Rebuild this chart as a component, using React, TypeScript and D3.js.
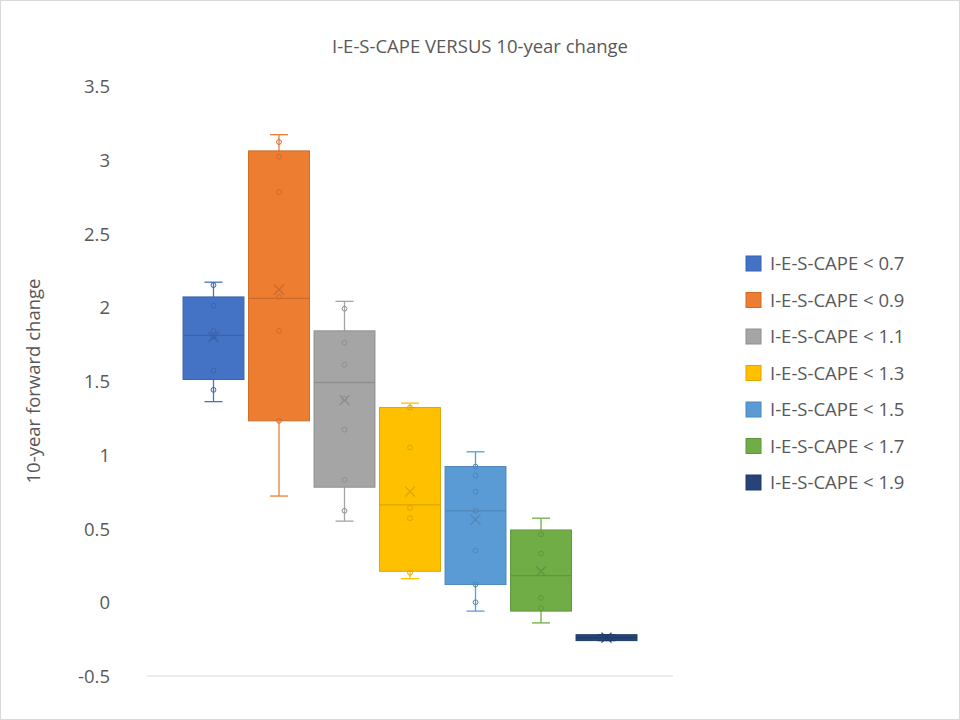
import React from 'react';
import * as d3 from 'd3';

const categories = ['I-E-S-CAPE < 0.7', 'I-E-S-CAPE < 0.9', 'I-E-S-CAPE < 1.1', 'I-E-S-CAPE < 1.3', 'I-E-S-CAPE < 1.5', 'I-E-S-CAPE < 1.7', 'I-E-S-CAPE < 1.9'];
const colors = ['#4472C4', '#ED7D31', '#A5A5A5', '#FFC000', '#5B9BD5', '#70AD47', '#264478'];
const q1 = [1.51, 1.23, 0.78, 0.21, 0.12, -0.06, -0.26];
const median = [1.81, 2.06, 1.49, 0.66, 0.62, 0.18, -0.24];
const q3 = [2.07, 3.06, 1.84, 1.32, 0.92, 0.49, -0.22];
const whiskerLow = [1.36, 0.72, 0.55, 0.16, -0.06, -0.14, -0.26];
const whiskerHigh = [2.17, 3.17, 2.04, 1.35, 1.02, 0.57, -0.22];
const means = [1.80, 2.12, 1.37, 0.75, 0.56, 0.21, -0.24];
const points = [
  [2.15, 2.01, 1.84, 1.80, 1.57, 1.44],
  [3.12, 3.02, 2.78, 2.07, 1.84, 1.23],
  [1.99, 1.76, 1.61, 1.38, 1.17, 0.83, 0.62],
  [1.32, 1.05, 0.64, 0.57, 0.20],
  [0.92, 0.86, 0.75, 0.62, 0.35, 0.12, 0.0],
  [0.46, 0.33, 0.03, -0.04],
  [],
];
const yTicks = [-0.5, 0, 0.5, 1, 1.5, 2, 2.5, 3, 3.5];

const App: React.FC = () => {
  const y = d3.scaleLinear().domain([-0.5, 3.5]).range([676, 86]);
  const x = d3.scaleBand().domain(categories).range([147, 673]).paddingInner(0.07).paddingOuter(0.55);
  const bw = x.bandwidth();
  const font = 'Segoe UI, "Open Sans", "Noto Sans", sans-serif';

  return (
    <svg width={960} height={720} style={{ position: 'absolute', left: 0, top: 0, fontFamily: font }}>
      <rect x={0.5} y={0.5} width={959} height={719} fill="#fff" stroke="#D9D9D9" />
      <text x={480} y={53} textAnchor="middle" fontSize={18.5} fill="#595959">I-E-S-CAPE VERSUS 10-year change</text>
      <text transform="translate(40,381) rotate(-90)" textAnchor="middle" fontSize={18.5} fill="#595959">10-year forward change</text>
      {yTicks.map(t => (
        <text key={t} x={110} y={y(t) + 7} textAnchor="end" fontSize={18.5} fill="#595959">{t}</text>
      ))}
      <line x1={147} x2={673} y1={676} y2={676} stroke="#D9D9D9" />
      {categories.map((c, i) => {
        const x0 = x(c)!;
        const cx = x0 + bw / 2;
        const col = colors[i];
        const dark = d3.color(col)!.darker(0.4).toString();
        return (
          <g key={c}>
            <line x1={cx} x2={cx} y1={y(whiskerHigh[i])} y2={y(q3[i])} stroke={col} strokeWidth={1.3} />
            <line x1={cx} x2={cx} y1={y(q1[i])} y2={y(whiskerLow[i])} stroke={col} strokeWidth={1.3} />
            <line x1={cx - 9} x2={cx + 9} y1={y(whiskerHigh[i])} y2={y(whiskerHigh[i])} stroke={col} strokeWidth={1.3} />
            <line x1={cx - 9} x2={cx + 9} y1={y(whiskerLow[i])} y2={y(whiskerLow[i])} stroke={col} strokeWidth={1.3} />
            <rect x={x0} y={y(q3[i])} width={bw} height={Math.max(4, y(q1[i]) - y(q3[i]))} fill={col} stroke={dark} strokeWidth={1} />
            <line x1={x0} x2={x0 + bw} y1={y(median[i])} y2={y(median[i])} stroke={dark} strokeWidth={1.3} />
            {points[i].map((p, j) => (
              <circle key={j} cx={cx} cy={y(p)} r={2.4} fill="none" stroke={dark} strokeWidth={1} />
            ))}
            <path d={`M${cx - 5},${y(means[i]) - 5}L${cx + 5},${y(means[i]) + 5}M${cx - 5},${y(means[i]) + 5}L${cx + 5},${y(means[i]) - 5}`} stroke={dark} strokeWidth={1.3} />
          </g>
        );
      })}
      {categories.map((c, i) => (
        <g key={c} transform={`translate(746,${263 + i * 36.5})`}>
          <rect x={0} y={-7} width={15} height={15} fill={colors[i]} stroke={d3.color(colors[i])!.darker(0.4).toString()} />
          <text x={24} y={7} fontSize={18.5} fill="#595959">{c}</text>
        </g>
      ))}
    </svg>
  );
};

export default App;
